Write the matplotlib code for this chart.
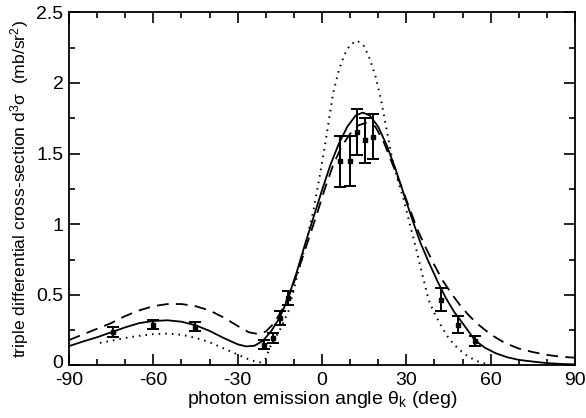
import numpy as np
import matplotlib
matplotlib.use("Agg")
from matplotlib import pyplot as plt
from matplotlib import transforms

# measured points with error bars
x_exp = [-74.5, -60, -45, -20.5, -17.6, -15, -12, 6.4, 10.0, 12.3, 15.3, 18.3, 42.2, 48.3, 54.4]
y_exp = [0.236, 0.29, 0.276, 0.147, 0.195, 0.337, 0.478, 1.445, 1.447, 1.652, 1.594, 1.62, 0.467, 0.29, 0.172]
e_exp = [0.035, 0.03, 0.03, 0.033, 0.035, 0.047, 0.047, 0.18, 0.18, 0.16, 0.16, 0.16, 0.08, 0.058, 0.035]

# solid curve
x_solid = [-90, -85, -80, -75, -70, -65, -60, -55, -50, -45, -40, -35, -30, -27, -24, -21, -18, -15, -12,
           -9, -6, -3, 0, 3, 6, 9, 12, 14.5, 17, 20, 23, 26, 29, 32, 35, 38, 41, 44, 47, 50, 54, 56, 58,
           62, 66, 70, 74, 80, 85, 90]
y_solid = [0.137, 0.17, 0.20, 0.235, 0.27, 0.30, 0.315, 0.32, 0.31, 0.285, 0.245, 0.195, 0.15, 0.135, 0.14,
           0.175, 0.245, 0.34, 0.48, 0.66, 0.86, 1.05, 1.24, 1.42, 1.57, 1.69, 1.77, 1.79, 1.77, 1.69, 1.56,
           1.40, 1.22, 1.04, 0.87, 0.73, 0.60, 0.48, 0.38, 0.30, 0.19, 0.155, 0.125, 0.085, 0.058, 0.04,
           0.03, 0.017, 0.011, 0.008]

# dashed curve
x_dash = [-90, -85, -80, -75, -70, -65, -60, -55, -50, -45, -40, -35, -30, -26, -23, -20, -17, -14, -11,
          -8, -5, -2, 1, 4, 7, 10, 13, 16, 19, 22, 25, 28, 31, 34, 37, 40, 43, 46, 49, 52, 55, 60, 65, 70,
          75, 80, 85, 90]
y_dash = [0.18, 0.22, 0.26, 0.30, 0.35, 0.39, 0.42, 0.435, 0.435, 0.42, 0.39, 0.34, 0.28, 0.235, 0.224,
          0.24, 0.30, 0.40, 0.53, 0.70, 0.88, 1.06, 1.25, 1.42, 1.55, 1.64, 1.70, 1.72, 1.69, 1.58, 1.43,
          1.28, 1.12, 0.96, 0.83, 0.71, 0.60, 0.51, 0.43, 0.36, 0.30, 0.22, 0.16, 0.12, 0.095, 0.075,
          0.062, 0.055]

# dotted curve
x_dot = [-79, -75, -70, -65, -60, -56, -52, -48, -44, -40, -36, -32, -28, -25, -22, -20, -18.5, -15, -12,
         -9, -6, -3, -1, 1, 4, 6, 8, 10, 12.5, 15, 17, 19, 21, 23, 25, 27, 29, 31, 33.7, 36, 38, 40, 42,
         44.5, 46.7, 49, 51.5, 54, 56.2, 59, 62]
y_dot = [0.16, 0.175, 0.195, 0.21, 0.222, 0.226, 0.222, 0.21, 0.19, 0.165, 0.13, 0.095, 0.06, 0.035, 0.022,
         0.05, 0.13, 0.25, 0.38, 0.62, 0.84, 1.1, 1.32, 1.55, 1.93, 2.09, 2.20, 2.27, 2.30, 2.26, 2.17,
         2.05, 1.88, 1.67, 1.46, 1.31, 1.18, 1.02, 0.81, 0.62, 0.46, 0.37, 0.295, 0.21, 0.154, 0.11, 0.071,
         0.042, 0.023, 0.01, 0.0]

xticks = [-90, -60, -30, 0, 30, 60, 90]
xtick_labels = ["-90", "-60", "-30", "0", "30", "60", "90"]
yticks = [0, 0.5, 1, 1.5, 2, 2.5]
ytick_labels = ["0", "0.5", "1", "1.5", "2", "2.5"]

plt.rcParams['font.family'] = ['Liberation Sans Narrow', 'Liberation Sans', 'DejaVu Sans']
plt.rcParams['mathtext.fontset'] = 'custom'
plt.rcParams['mathtext.rm'] = 'Liberation Sans'
plt.rcParams['mathtext.it'] = 'Liberation Sans'

fig = plt.figure(figsize=(5.86, 4.18), dpi=100)
ax = fig.add_axes([0.1177, 0.1256, 0.8635, 0.845])

ax.plot(x_solid, y_solid, color="k", lw=1.3, linestyle="-")
ax.plot(x_dash, y_dash, color="k", lw=1.3, linestyle=(0, (6.5, 4)))
ax.plot(x_dot, y_dot, color="k", lw=1.4, linestyle=(0, (0.8, 2.6)))
ax.errorbar(x_exp, y_exp, e_exp, fmt="s", color="k", ms=2.5, elinewidth=1.4, capsize=4.5, capthick=1.4)

ax.set_xlim(-90, 90)
ax.set_ylim(0, 2.5)
ax.set_xticks(xticks)
ax.set_xticklabels(xtick_labels)
ax.set_yticks(yticks)
ax.set_yticklabels(ytick_labels)
ax.set_xticks(np.arange(-90, 91, 10), minor=True)
ax.set_yticks(np.arange(0, 2.51, 0.25), minor=True)
ax.tick_params(which="both", direction="in", top=True, right=True, width=1.2, labelsize=14)
ax.tick_params(which="major", length=8)
ax.tick_params(axis="x", which="major", pad=5)
ax.tick_params(axis="y", which="major", pad=4)
ax.tick_params(which="minor", length=4)
for s in ax.spines.values():
    s.set_linewidth(1.3)

# nudge the "0" label up a little so it does not run into "-90"
lab0 = ax.get_yticklabels()[0]
lab0.set_transform(lab0.get_transform() + transforms.ScaledTranslation(0, 3 / 72, fig.dpi_scale_trans))

ax.set_xlabel(r"photon emission angle $\theta_\mathregular{k}$ (deg)", fontsize=14, labelpad=0)
ax.set_ylabel(r"triple differential cross-section d$^\mathregular{3}\sigma$  (mb/sr$^\mathregular{2}$)",
              fontsize=12.6, labelpad=4)

fig.savefig("out.png", dpi=100)
